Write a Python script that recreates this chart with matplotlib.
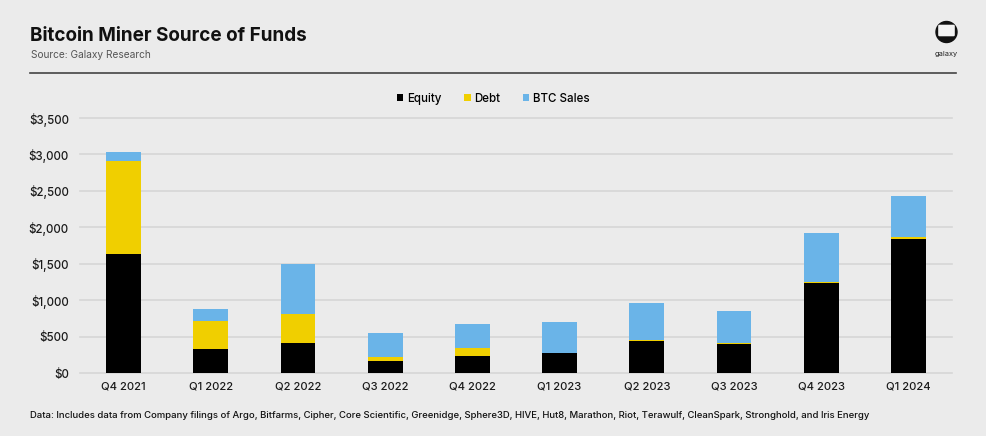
import numpy as np
import matplotlib
matplotlib.use("Agg")
import matplotlib.pyplot as plt
from matplotlib.patches import Circle, FancyBboxPatch
from matplotlib.lines import Line2D

# Data (USD millions)
quarters = ["Q4 2021", "Q1 2022", "Q2 2022", "Q3 2022", "Q4 2022",
            "Q1 2023", "Q2 2023", "Q3 2023", "Q4 2023", "Q1 2024"]
equity = [1633, 334, 412, 165, 233, 270, 444, 398, 1240, 1835]
debt = [1270, 380, 393, 59, 115, 8, 15, 20, 5, 27]
btc_sales = [130, 160, 687, 329, 320, 418, 498, 429, 672, 572]
yticks = [0, 500, 1000, 1500, 2000, 2500, 3000, 3500]

BG = "#ebebeb"
C_EQ = "#000000"
C_DEBT = "#f0cf00"
C_BTC = "#6ab4e8"

plt.rcParams['font.family'] = ['Inter', 'DejaVu Sans']

fig = plt.figure(figsize=(9.87, 4.36), dpi=100, facecolor=BG)
W, H = 987, 436

def fx(px):
    return px / W

def fy(py):
    return 1 - py / H

ax = fig.add_axes([fx(80), fy(373), fx(952) - fx(80), fy(118) - fy(373)])
ax.set_facecolor(BG)

x = np.arange(len(quarters))
eq = np.array(equity)
db = np.array(debt)
bt = np.array(btc_sales)
bw = 0.4
ax.bar(x, eq, bw, color=C_EQ, label="Equity", zorder=3)
ax.bar(x, db, bw, bottom=eq, color=C_DEBT, label="Debt", zorder=3)
ax.bar(x, bt, bw, bottom=eq + db, color=C_BTC, label="BTC Sales", zorder=3)

ax.set_xlim(-0.5, len(quarters) - 0.5)
ax.set_ylim(0, 3500)
ax.set_yticks(yticks)
ax.set_yticklabels(["${:,}".format(v) for v in yticks], fontsize=8.3,
                   fontweight='medium', color="#1a1a1a")
ax.set_xticks(x)
ax.set_xticklabels(quarters, fontsize=8.1, fontweight='medium', color="#1a1a1a")
ax.tick_params(axis='both', length=0)
ax.tick_params(axis='y', pad=8)
ax.tick_params(axis='x', pad=6)
ax.grid(axis='y', color="#d6d6d6", linewidth=1.2, zorder=0, clip_on=False)
for s in ax.spines.values():
    s.set_visible(False)

leg = ax.legend(loc='center', bbox_to_anchor=(0.474, (fy(99) - fy(373)) / (fy(118) - fy(373))),
                ncol=3, frameon=False, fontsize=8.3, handlelength=0.55, handleheight=0.55,
                handletextpad=0.3, columnspacing=2.0)
for t in leg.get_texts():
    t.set_fontweight('medium')

# header
fig.text(fx(30), fy(41), "Bitcoin Miner Source of Funds", fontsize=13.6,
         fontweight='bold', color="#111111", va='baseline', ha='left')
fig.text(fx(31), fy(58), "Source: Galaxy Research", fontsize=7.3,
         color="#555555", va='baseline', ha='left')
fig.add_artist(Line2D([fx(30), fx(956)], [fy(73), fy(73)], color="#444444", linewidth=1.2))

# footer
fig.text(fx(30), fy(418),
         "Data: Includes data from Company filings of Argo, Bitfarms, Cipher, Core Scientific, "
         "Greenidge, Sphere3D, HIVE, Hut8, Marathon, Riot, Terawulf, CleanSpark, Stronghold, "
         "and Iris Energy",
         fontsize=6.85, fontweight='medium', color="#111111", va='baseline', ha='left')

# logo
lax = fig.add_axes([fx(933), fy(47), fx(960) - fx(933), fy(20) - fy(47)])
lax.set_xlim(0, 27)
lax.set_ylim(0, 27)
lax.set_aspect('equal')
lax.axis('off')
lax.add_patch(Circle((13.5, 15), 10.5, color="#111111"))
lax.add_patch(FancyBboxPatch((6.5, 12), 14, 9, boxstyle="round,pad=0.6", color="#f2f2f2"))
fig.text(fx(946), fy(56), "galaxy", fontsize=5.3, color="#222222", ha='center', va='baseline')

fig.savefig("out.png", dpi=100, facecolor=BG)
